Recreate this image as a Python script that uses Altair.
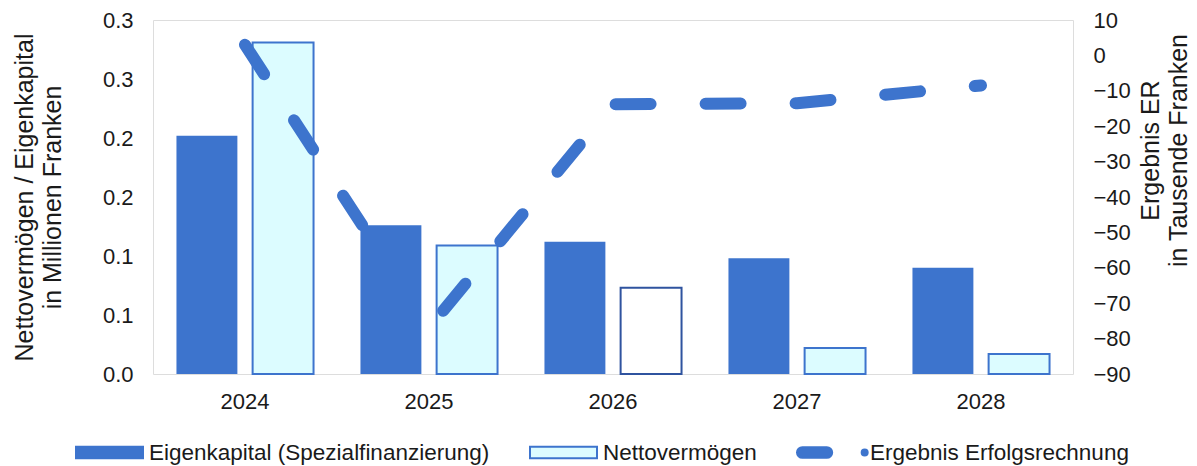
import altair as alt
import pandas as pd

years = ["2024", "2025", "2026", "2027", "2028"]
eigenkapital = [0.202, 0.126, 0.112, 0.098, 0.090]
nettovermoegen = [0.281, 0.109, 0.073, 0.022, 0.017]
ergebnis = [3.0, -77.0, -13.8, -13.5, -8.5]
series_names = ["Eigenkapital (Spezialfinanzierung)", "Nettovermögen", "Ergebnis Erfolgsrechnung"]
left_ticks = [0, 0.05, 0.1, 0.15, 0.2, 0.25, 0.3]
right_ticks = [-90, -80, -70, -60, -50, -40, -30, -20, -10, 0, 10]
left_title = ["Nettovermögen / Eigenkapital", "in Millionen Franken"]
right_title = ["Ergebnis ER", "in Tausende Franken"]

BLUE = "#3d74cd"
CYAN = "#dcfcff"
FONT = "Liberation Sans"
TXT = "#1a1a1a"

eigen_df = pd.DataFrame({"year": years, "part": "Eigen", "value": eigenkapital})
netto_df = pd.DataFrame({"year": years, "part": "Netto", "value": nettovermoegen})
line_df = pd.DataFrame({"year": years, "value": ergebnis})
legend_df = pd.DataFrame({"s": series_names})

x_enc = alt.X(
    "year:N",
    scale=alt.Scale(domain=years, paddingInner=0.255, paddingOuter=0.1275),
    axis=alt.Axis(title=None, domain=False, ticks=False, tickSize=0, labelPadding=17,
                  labelFontSize=22, labelFont=FONT, labelColor=TXT, labelAngle=0),
)
xoff = alt.XOffset("part:N", scale=alt.Scale(domain=["Eigen", "Netto"], paddingInner=0.2, paddingOuter=0))
left_scale = alt.Scale(domain=[0, 0.3], nice=False, zero=True)

netto = alt.Chart(netto_df).mark_bar(stroke=BLUE, strokeWidth=2).encode(
    x=x_enc,
    xOffset=xoff,
    y=alt.Y("value:Q", scale=left_scale, axis=alt.Axis(
        orient="left", values=left_ticks, labelExpr="format(datum.value + 1e-9, '.1f')",
        grid=False, domain=False, ticks=False, tickSize=0, labelPadding=20,
        labelFontSize=22, labelFont=FONT, labelColor=TXT,
        title=left_title, titleFontSize=25, titleFont=FONT, titleFontWeight="normal", titleColor=TXT,
        titleAngle=270, titleAlign="center", titleBaseline="alphabetic", titleLineHeight=28,
        titleX=-121, titleY=177)),
    fill=alt.condition(alt.datum.year == "2026", alt.value("white"), alt.value(CYAN)),
    stroke=alt.condition(alt.datum.year == "2026", alt.value("#2f539f"), alt.value(BLUE)),
)

line = alt.Chart(line_df).mark_line(
    color=BLUE, strokeWidth=12, strokeCap="round", strokeJoin="round", strokeDash=[35, 55]
).encode(
    x=x_enc,
    y=alt.Y("value:Q", scale=alt.Scale(domain=[-90, 10], nice=False, zero=False), axis=alt.Axis(
        orient="right", values=right_ticks, format="d",
        grid=False, domain=False, ticks=False, tickSize=0, labelPadding=20,
        labelFontSize=22, labelFont=FONT, labelColor=TXT,
        title=right_title, titleFontSize=25, titleFont=FONT, titleFontWeight="normal", titleColor=TXT,
        titleAngle=270, titleAlign="center", titleBaseline="alphabetic", titleLineHeight=28,
        titleX=85, titleY=130)),
)

eigen = alt.Chart(eigen_df).mark_bar(color=BLUE).encode(
    x=x_enc,
    xOffset=xoff,
    y=alt.Y("value:Q", scale=left_scale, axis=None),
)

rect_path = "M-1,-0.17L1,-0.17L1,0.17L-1,0.17Z"
line_path = ("M-0.84,-0.16L-0.11,-0.16A0.16,0.16,0,0,1,-0.11,0.16L-0.84,0.16A0.16,0.16,0,0,1,-0.84,-0.16Z"
             "M0.93,0A0.09,0.09,0,1,0,1.11,0A0.09,0.09,0,1,0,0.93,0Z")

leg = alt.Legend(
    title=None, orient="none", legendX=-78, legendY=398, direction="horizontal",
    symbolSize=4489, symbolStrokeWidth=2, symbolOpacity=1, labelFontSize=22.5, labelFont=FONT,
    labelColor=TXT, labelOffset=5, columnPadding=36, padding=0, labelLimit=600,
)

legend_layer = alt.Chart(legend_df).mark_point(filled=True, opacity=1, strokeWidth=2).encode(
    shape=alt.Shape("s:N", scale=alt.Scale(domain=series_names, range=[rect_path, rect_path, line_path]), legend=leg),
    fill=alt.Fill("s:N", scale=alt.Scale(domain=series_names, range=[BLUE, CYAN, BLUE]), legend=leg),
    stroke=alt.Stroke("s:N", scale=alt.Scale(domain=series_names, range=[BLUE, BLUE, BLUE]), legend=leg),
).transform_filter("false")

chart = alt.layer(netto, line, eigen, legend_layer).resolve_scale(
    y="independent"
).properties(
    width=920, height=354,
    padding={"left": 153, "top": 20, "right": 124, "bottom": 92},
    autosize=alt.AutoSizeParams(type="none"),
).configure_view(strokeWidth=0, stroke="transparent").configure_axis(
    domain=False, grid=False, ticks=False
).configure(background="white")

chart.save("out.html", embed_options={"renderer": "svg", "actions": False})
